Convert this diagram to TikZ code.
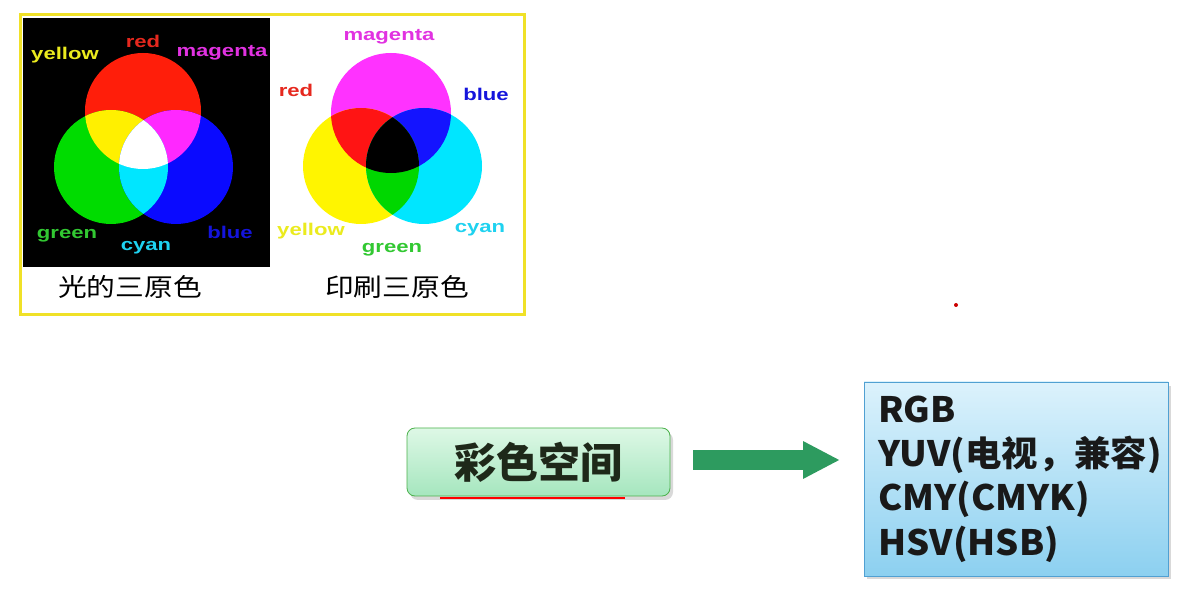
\documentclass[tikz,border=0pt]{standalone}
\usepackage{fontspec}
\setmainfont{Liberation Sans}
\newfontfamily\cjk{Noto Sans CJK SC}
\usetikzlibrary{arrows.meta}
\definecolor{frameyellow}{RGB}{240,225,40}
\definecolor{lred}{RGB}{255,30,10}
\definecolor{lgreen}{RGB}{0,220,0}
\definecolor{lblue}{RGB}{10,10,255}
\definecolor{lyel}{RGB}{255,240,0}
\definecolor{lmag}{RGB}{255,40,255}
\definecolor{lcyan}{RGB}{0,230,255}
\definecolor{pmag}{RGB}{255,50,255}
\definecolor{pyel}{RGB}{255,245,0}
\definecolor{pcyan}{RGB}{0,230,255}
\definecolor{pred}{RGB}{255,20,20}
\definecolor{pblue}{RGB}{20,20,255}
\definecolor{pgreen}{RGB}{0,215,0}
\definecolor{tyellow}{RGB}{235,235,30}
\definecolor{tred}{RGB}{230,40,30}
\definecolor{tmag}{RGB}{225,50,225}
\definecolor{tgreen}{RGB}{50,200,50}
\definecolor{tcyan}{RGB}{30,210,240}
\definecolor{tblue}{RGB}{20,20,220}
\definecolor{arrowgreen}{RGB}{45,155,95}
\definecolor{gtop}{RGB}{222,248,230}
\definecolor{gbot}{RGB}{165,230,190}
\definecolor{btop}{RGB}{220,242,252}
\definecolor{bbot}{RGB}{140,208,240}
\tikzset{
  lab/.style={font=\bfseries\fontsize{17}{17}\selectfont, xscale=1.3, inner sep=0pt},
  captext/.style={font=\cjk\fontsize{25}{25}\selectfont, xscale=1.15, inner sep=0pt},
}
\begin{document}
\begin{tikzpicture}[x=1pt,y=-1pt]
\useasboundingbox (0,0) rectangle (1195,601);
\fill[white] (0,0) rectangle (1195,601);
% yellow frame
\draw[frameyellow, line width=3pt] (20,15) rectangle (524,315);
% black panel
\fill[black] (23,18) rectangle (270,267);
% additive circles
\def\Rc{(143,111) circle (58)}
\def\Gc{(111,167) circle (57)}
\def\Bc{(176,167) circle (57)}
\fill[lred] \Rc; \fill[lgreen] \Gc; \fill[lblue] \Bc;
\begin{scope}\clip \Rc; \fill[lyel] \Gc; \fill[lmag] \Bc; \end{scope}
\begin{scope}\clip \Gc; \fill[lcyan] \Bc; \clip \Bc; \fill[white] \Rc; \end{scope}
% subtractive circles
\def\Mc{(391,113) circle (60)}
\def\Yc{(361,166) circle (58)}
\def\Cc{(424,166) circle (58)}
\fill[pmag] \Mc; \fill[pyel] \Yc; \fill[pcyan] \Cc;
\begin{scope}\clip \Mc; \fill[pred] \Yc; \fill[pblue] \Cc; \end{scope}
\begin{scope}\clip \Yc; \fill[pgreen] \Cc; \clip \Cc; \fill[black] \Mc; \end{scope}
% labels left
\node[lab, text=tyellow] (ly) at (65,55) {yellow};
\node[lab, text=tred] (lr) at (143,41) {red};
\node[lab, text=tmag] (lm) at (222,53) {magenta};
\node[lab, text=tgreen] (lg) at (67,236) {green};
\node[lab, text=tcyan] (lc) at (146,248) {cyan};
\node[lab, text=tblue] (lb) at (230,232) {blue};
% labels right
\node[lab, text=tmag] (rm) at (389,37) {magenta};
\node[lab, text=tred] (rr) at (296,90) {red};
\node[lab, text=tblue] (rb) at (486,94) {blue};
\node[lab, text=tyellow] (ry) at (311,231) {yellow};
\node[lab, text=tgreen] (rg) at (392,250) {green};
\node[lab, text=tcyan] (rc) at (480,230) {cyan};
% captions
\node[captext] (c1) at (130,287) {光的三原色};
\node[captext] (c2) at (397,287) {印刷三原色};
% red dot
\fill[red!80!black] (956,305) circle (2);
% green box
\fill[gray!30, rounded corners=8pt] (410,432) rectangle (673,500);
\shade[top color=gtop, bottom color=gbot, rounded corners=8pt, draw=gray!60!green, line width=0.8pt] (407,428) rectangle (670,496);
\draw[red, line width=2pt] (440,498) -- (625,498);
\node[font=\cjk\bfseries\fontsize{42}{42}\selectfont, text={rgb,255:red,30;green,40;blue,25}, inner sep=0pt] (cs) at (538,462) {彩色空间};
\coordinate (gbox) at (670,462);
% blue box
\fill[gray!30] (867,386) rectangle (1171,579);
\shade[top color=btop, bottom color=bbot, draw={rgb,255:red,80;green,160;blue,210}, line width=0.8pt] (864,382) rectangle (1168,576);
\coordinate (bbox) at (864,460);
% arrow
\coordinate (as) at (693,460);
\coordinate (ae) at (840,460);
\draw[arrowgreen, line width=20pt, -{Triangle[length=37pt,width=35pt]}] (as) -- (ae);
% box text
\begin{scope}[every node/.style={font=\cjk\bfseries\fontsize{35}{35}\selectfont, xscale=1.04, text={rgb,255:red,25;green,25;blue,25}, anchor=base west, inner sep=0pt}]
\node (t1) at (878,423) {RGB};
\node (t2) at (878,467) {YUV(电视，兼容)};
\node (t3) at (878,511) {CMY(CMYK)};
\node (t4) at (878,555) {HSV(HSB)};
\end{scope}
\end{tikzpicture}
\end{document}
